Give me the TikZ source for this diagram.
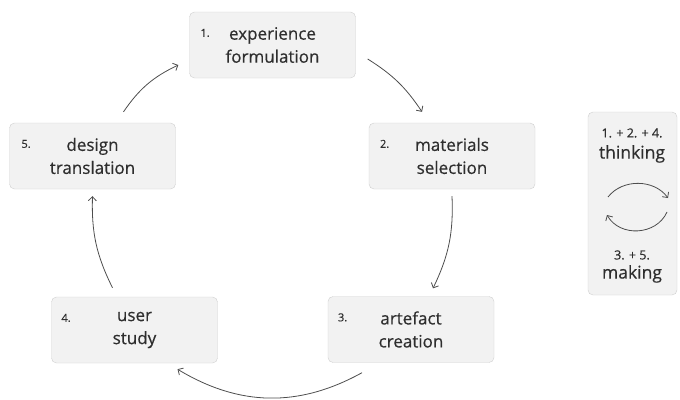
\documentclass[tikz,border=0pt]{standalone}
\usepackage{fontspec}
\setmainfont{Open Sans}[FakeBold=0.45]
\usetikzlibrary{arrows.meta,calc}
\definecolor{boxfill}{HTML}{F2F2F2}
\definecolor{boxline}{HTML}{CFCFCF}
\definecolor{txt}{HTML}{2E2E2E}
\definecolor{arr}{HTML}{4D4D4D}
\begin{document}
\begin{tikzpicture}[x=1pt,y=-1pt,
  box/.style={draw=boxline, fill=boxfill, rounded corners=5pt, minimum width=166pt, minimum height=66pt, inner sep=0pt, align=center, font=\fontsize{17}{23}\selectfont, text=txt},
  num/.style={font=\fontsize{11}{12}\selectfont, text=txt, anchor=base west, inner sep=0pt},
  small/.style={font=\fontsize{12.5}{13}\selectfont, text=txt, inner sep=0pt},
  big/.style={font=\fontsize{17.5}{18}\selectfont, text=txt, inner sep=0pt},
  flow/.style={draw=arr, line width=0.8pt, -{Straight Barb[length=4pt,width=8pt]}},
]
\useasboundingbox (0,0) rectangle (680,399);

\node[box] (b1) at (272.5,45) {experience\\formulation};
\node[box] (b2) at (452,156) {materials\\selection};
\node[box] (b3) at (411,329.5) {artefact\\creation};
\node[box] (b4) at (134.5,330) {user\\study};
\node[box] (b5) at (92.5,156) {design\\translation};

\node[num] (n1) at ($(b1.north west)+(11,25)$) {1.};
\node[num] (n2) at ($(b2.north west)+(11,25)$) {2.};
\node[num] (n3) at ($(b3.north west)+(10,25)$) {3.};
\node[num] (n4) at ($(b4.north west)+(10,25)$) {4.};
\node[num] (n5) at ($(b5.north west)+(12,25)$) {5.};

\node[draw=boxline, fill=boxfill, rounded corners=5pt, minimum width=89pt, minimum height=183pt, inner sep=0pt] (side) at (632.5,203.5) {};
\node[small] (s1) at (632,133) {1. + 2. + 4.};
\node[big] (s2) at (632,154) {thinking};
\node[small] (s3) at (632,255) {3. + 5.};
\node[big] (s4) at (632,274) {making};

\coordinate (c1) at (608,197);
\coordinate (c2) at (668,198);
\coordinate (c3) at (667,212);
\coordinate (c4) at (607,215);
\draw[flow] (c1) to[bend left=53] (c2);
\draw[flow] (c3) to[bend left=63, looseness=1.1] (c4);

\coordinate (p51) at ($(b5.north)+(31,-11)$);
\coordinate (p15) at ($(b1.west)+(-11,20)$);
\coordinate (p12) at ($(b1.east)+(12,14)$);
\coordinate (p21) at ($(b2.north)+(-30,-11)$);
\coordinate (p23) at ($(b2.south)+(0,7)$);
\coordinate (p32) at ($(b3.north)+(22,-8)$);
\coordinate (p34) at ($(b3.south)+(-49,10)$);
\coordinate (p43) at ($(b4.south)+(43,6)$);
\coordinate (p45) at ($(b4.north)+(-22,-9)$);
\coordinate (p54) at ($(b5.south)+(0,7)$);

\draw[flow] (p51) to[bend left=15] (p15);
\draw[flow] (p12) to[bend left=12] (p21);
\draw[flow] (p23) to[bend left=14] (p32);
\draw[flow] (p34) to[bend left=30] (p43);
\draw[flow] (p45) to[bend left=14] (p54);
\end{tikzpicture}
\end{document}
